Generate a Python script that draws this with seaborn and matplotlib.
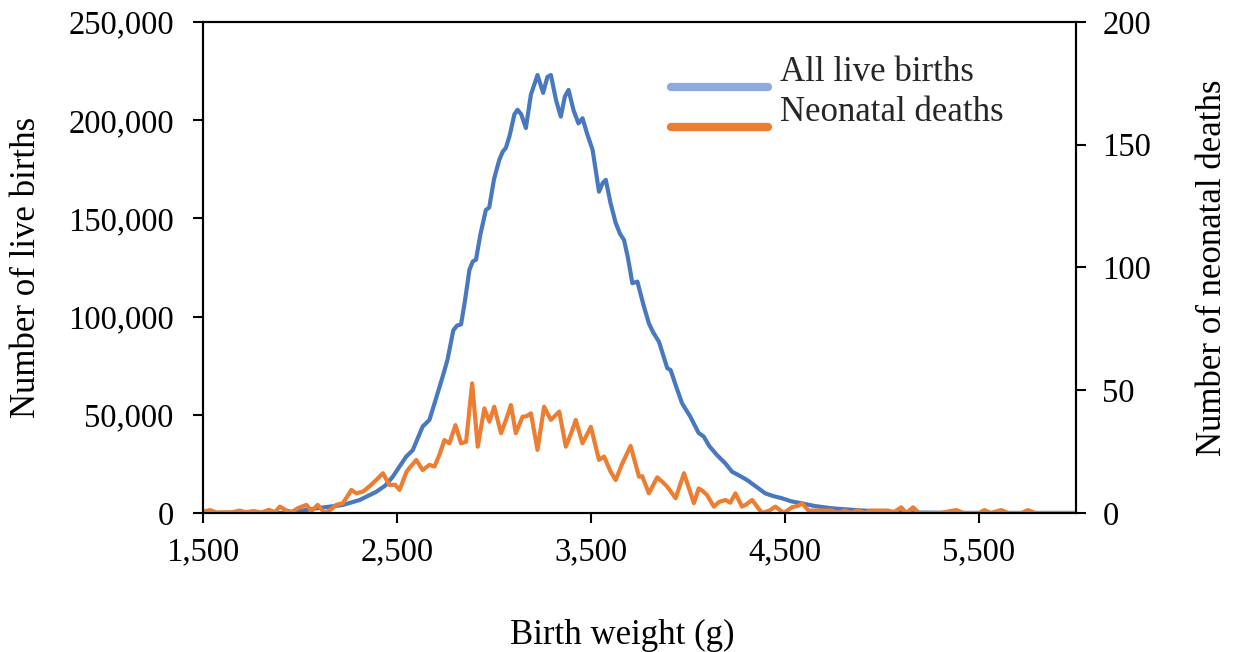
import numpy as np
import pandas as pd
import matplotlib
matplotlib.use("Agg")
import matplotlib.pyplot as plt
import seaborn as sns
from matplotlib.lines import Line2D
from matplotlib.legend_handler import HandlerLine2D
from matplotlib.ticker import FuncFormatter, MultipleLocator

# all live births (left axis)
birth_weight = [1500, 1700, 1900, 1950, 2000, 2085, 2150, 2221, 2307, 2393, 2440, 2478,
                2547, 2581, 2632, 2667, 2700, 2735, 2760, 2790, 2810, 2830, 2850, 2873,
                2890, 2907, 2930, 2958, 2975, 3000, 3027, 3045, 3061, 3080, 3105, 3121,
                3140, 3164, 3190, 3224, 3253, 3275, 3293, 3320, 3344, 3365, 3384, 3410,
                3435, 3456, 3480, 3508, 3541, 3560, 3576, 3600, 3627, 3650, 3670, 3690,
                3713, 3739, 3770, 3798, 3820, 3850, 3873, 3893, 3910, 3940, 3969, 3990,
                4012, 4035, 4055, 4081, 4110, 4149, 4190, 4227, 4265, 4304, 4350, 4398,
                4440, 4484, 4530, 4587, 4650, 4741, 4820, 4912, 5000, 5100, 5200, 5400,
                5600, 6000]
live_births = [0, 0, 0, 300, 1000, 2400, 3200, 4100, 6600, 10800, 14000, 18500,
               28700, 32000, 44000, 47400, 58000, 69400, 78000, 93000, 95500, 96000, 108000, 123700,
               128000, 129000, 142000, 154300, 155500, 170000, 179800, 184000, 185900, 192000, 203000, 205300,
               203000, 196000, 213000, 223000, 213900, 222000, 223000, 210000, 201800, 212000, 215400, 205000,
               198400, 201000, 193000, 184900, 163600, 168000, 169600, 158000, 147700, 142000, 139000, 130000,
               117000, 117800, 106000, 96600, 92000, 87200, 80000, 73700, 72800, 64000, 55900, 52500,
               49000, 44500, 40700, 38900, 34000, 29500, 25500, 21000, 19000, 16800, 13500, 10000,
               8600, 7500, 6000, 4900, 3600, 2400, 1800, 1200, 700, 400, 200, 50,
               0, 0]

# neonatal deaths (right axis)
death_weight = [1500, 1536, 1570, 1610, 1650, 1690, 1720, 1760, 1800, 1840, 1870, 1896,
                1930, 1960, 1990, 2033, 2060, 2091, 2127, 2160, 2187, 2221, 2265, 2290,
                2324, 2360, 2400, 2427, 2461, 2490, 2513, 2550, 2599, 2632, 2667, 2693,
                2720, 2744, 2770, 2801, 2830, 2856, 2887, 2916, 2950, 2976, 3001, 3036,
                3062, 3087, 3112, 3147, 3170, 3190, 3224, 3258, 3293, 3336, 3370, 3400,
                3421, 3456, 3499, 3541, 3567, 3600, 3627, 3660, 3704, 3747, 3764, 3798,
                3841, 3870, 3893, 3936, 3979, 4030, 4055, 4075, 4098, 4133, 4160, 4193,
                4218, 4244, 4278, 4300, 4330, 4381, 4420, 4450, 4493, 4535, 4570, 4587,
                4621, 4680, 4741, 4770, 4810, 4840, 4878, 4910, 4940, 4990, 5030, 5060,
                5099, 5125, 5160, 5190, 5250, 5300, 5383, 5420, 5500, 5528, 5560, 5614,
                5650, 5720, 5751, 5790, 5900, 6000]
neonatal_deaths = [0.5, 1.2, 0.2, 0.3, 0.3, 1.0, 0.3, 0.8, 0.2, 1.3, 0.3, 2.6,
                   1.0, 0.5, 2.0, 3.3, 0.8, 3.3, 0, 1.5, 3.3, 4.0, 9.4, 8.0,
                   8.7, 11.0, 14.0, 16.2, 11.4, 11.5, 9.4, 17.0, 21.6, 17.5, 19.6, 18.9,
                   24.0, 29.7, 28.4, 35.8, 28.4, 29.0, 52.8, 27.0, 42.6, 37.2, 43.3, 32.5,
                   38.0, 44.0, 32.5, 39.2, 39.5, 40.6, 25.7, 43.3, 37.9, 41.3, 27.0, 33.0,
                   37.9, 28.4, 35.1, 21.6, 23.0, 17.0, 13.4, 20.0, 27.3, 14.8, 15.0, 8.0,
                   14.5, 12.5, 10.7, 6.0, 16.2, 4.0, 10.0, 9.0, 7.3, 2.6, 4.5, 5.3,
                   4.2, 8.0, 2.6, 3.5, 5.3, 0, 1.0, 2.6, 0, 2.3, 3.0, 4.0,
                   1.0, 1.0, 1.0, 0, 1.0, 0, 1.2, 0, 1.0, 1.0, 1.0, 0.3,
                   2.3, 0, 2.3, 0, 0, 0, 1.2, 0, 0, 1.2, 0, 1.2,
                   0, 0, 1.2, 0, 0, 0]

x_ticks = [1500, 2500, 3500, 4500, 5500]
series_names = ["All live births", "Neonatal deaths"]

blue = "#4878C0"
blue_legend = "#8FAADC"
orange = "#ED7D31"


# legend swatches sit a bit below their labels, like in the original
class LowHandler(HandlerLine2D):
    def create_artists(self, legend, orig_handle, xdescent, ydescent, width, height,
                       fontsize, trans):
        arts = super().create_artists(legend, orig_handle, xdescent, ydescent, width,
                                      height, fontsize, trans)
        for a in arts:
            a.set_ydata(np.asarray(a.get_ydata()) - 0.75 * height)
        return arts


sns.set_theme(style="white")
plt.rcParams["font.family"] = ["Liberation Serif", "DejaVu Serif"]
tick_fs = 23.5
label_fs = 25

births_df = pd.DataFrame({"weight": birth_weight, "count": live_births})
deaths_df = pd.DataFrame({"weight": death_weight, "count": neonatal_deaths})

fig = plt.figure(figsize=(12.35, 6.52), dpi=100)
ax = fig.add_axes([0.1644, 0.2132, 0.7069, 0.7531])
ax2 = ax.twinx()

sns.lineplot(data=births_df, x="weight", y="count", ax=ax, color=blue, lw=3.0,
             solid_joinstyle="round", legend=False)
sns.lineplot(data=deaths_df, x="weight", y="count", ax=ax2, color=orange, lw=3.0,
             solid_joinstyle="round", legend=False)

ax.set_xlim(1500, 6000)
ax.set_ylim(0, 250000)
ax2.set_ylim(0, 200)
ax.set_xticks(x_ticks)
ax.yaxis.set_major_locator(MultipleLocator(50000))
ax2.yaxis.set_major_locator(MultipleLocator(50))
ax.xaxis.set_major_formatter(FuncFormatter(lambda v, p: f"{int(v):,}"))
ax.yaxis.set_major_formatter(FuncFormatter(lambda v, p: f"{int(v):,}"))

for a in (ax, ax2):
    for s in a.spines.values():
        s.set_color("black")
        s.set_linewidth(1.5)
ax.tick_params(axis="x", direction="out", length=7, width=1.5, pad=10, bottom=True,
               labelsize=tick_fs, colors="black")
ax.tick_params(axis="y", direction="out", length=7, width=1.5, pad=14, left=True,
               labelsize=tick_fs, colors="black")
ax2.tick_params(axis="y", direction="out", length=7, width=1.5, pad=12, right=True,
                labelsize=tick_fs, colors="black")

ax.set_xlabel("Birth weight (g)", fontsize=label_fs, color="black")
ax.xaxis.set_label_coords(0.48, -0.215)
ax.set_ylabel("Number of live births", fontsize=label_fs, labelpad=18, color="black")
ax2.set_ylabel("Number of neonatal deaths", fontsize=label_fs, labelpad=32, color="black")

handles = [Line2D([], [], color=blue_legend, lw=6, solid_capstyle="round"),
           Line2D([], [], color=orange, lw=6, solid_capstyle="round")]
ax2.legend(handles, series_names, loc="upper left", bbox_to_anchor=(0.50, 0.995),
           frameon=False, handlelength=2.8, handletextpad=0.35, labelspacing=0.2,
           fontsize=label_fs, handler_map={Line2D: LowHandler()})

fig.savefig("out.png", dpi=100)
